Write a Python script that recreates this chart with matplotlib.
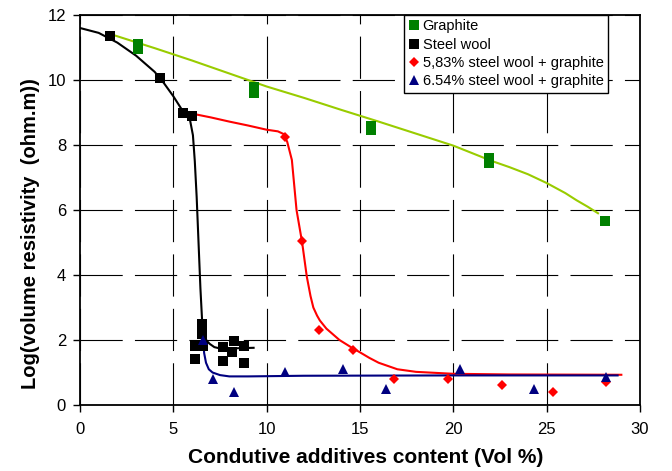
import matplotlib
matplotlib.use("Agg")
import matplotlib.pyplot as plt

plt.rcParams['font.family'] = ['Liberation Sans', 'DejaVu Sans']

# measured points
graphite_x = [3.1, 3.1, 9.3, 9.3, 15.6, 15.6, 21.9, 21.9, 28.1]
graphite_y = [11.1, 10.95, 9.8, 9.6, 8.6, 8.45, 7.6, 7.45, 5.65]

steel_x = [1.6, 4.3, 5.5, 6.0, 6.55, 6.55, 6.15, 6.15, 6.6, 7.65, 7.65, 8.25, 8.15, 8.8, 8.8]
steel_y = [11.35, 10.05, 9.0, 8.9, 2.5, 2.2, 1.83, 1.42, 1.83, 1.8, 1.36, 1.98, 1.64, 1.83, 1.3]

red_x = [11.0, 11.9, 12.8, 14.6, 16.8, 19.7, 22.6, 25.35, 28.2]
red_y = [8.25, 5.05, 2.3, 1.7, 0.8, 0.8, 0.63, 0.41, 0.72]

blue_x = [6.6, 7.1, 8.25, 11.0, 14.1, 16.4, 20.35, 24.3, 28.2]
blue_y = [2.0, 0.8, 0.41, 1.03, 1.1, 0.5, 1.1, 0.5, 0.86]

# trend lines
graphite_fit_x = [1.7, 4, 6, 8, 10, 12, 14, 16, 18, 20, 21.4, 22, 23, 24, 25, 26, 26.6, 27.2, 27.75]
graphite_fit_y = [11.4, 10.98, 10.6, 10.2, 9.8, 9.45, 9.08, 8.72, 8.35, 7.98, 7.66, 7.52, 7.32, 7.1, 6.83, 6.52, 6.3, 6.1, 5.9]

steel_fit_x = [0, 1, 2, 3, 4, 4.5, 5, 5.5, 5.9, 6.05, 6.15, 6.25, 6.35, 6.45, 6.55, 6.65, 6.8, 6.95, 7.2, 7.5, 8, 9.3]
steel_fit_y = [11.6, 11.45, 11.15, 10.75, 10.25, 9.9, 9.5, 9.05, 8.75, 8.3, 7.5, 6.4, 5.0, 3.6, 2.5, 2.1, 1.97, 1.88, 1.78, 1.74, 1.74, 1.76]

red_fit_x = [5.7, 7, 8, 9, 10, 10.6, 10.9, 11.1, 11.35, 11.6, 11.9, 12.15, 12.35, 12.5, 12.7, 12.85, 13.2, 13.5, 13.9, 14.6, 15, 15.5, 16, 17, 18, 20, 23, 29]
red_fit_y = [9.0, 8.85, 8.72, 8.6, 8.47, 8.42, 8.34, 8.1, 7.54, 6.0, 5.0, 3.95, 3.35, 3.0, 2.75, 2.6, 2.35, 2.2, 2.0, 1.75, 1.62, 1.45, 1.3, 1.1, 1.02, 0.96, 0.94, 0.93]

blue_fit_x = [6.6, 6.65, 6.75, 6.9, 7.1, 7.5, 8, 9, 12, 20, 28.8]
blue_fit_y = [2.0, 1.6, 1.3, 1.1, 1.0, 0.92, 0.88, 0.88, 0.9, 0.91, 0.91]

fig = plt.figure(figsize=(6.72, 4.71), dpi=100)
ax = fig.add_axes([80 / 672, 1 - 405 / 471, 560 / 672, 390 / 471])

ax.plot(graphite_fit_x, graphite_fit_y, color='#99cc00', lw=1.5, zorder=2)
ax.plot(steel_fit_x, steel_fit_y, color='black', lw=1.5, zorder=2)
ax.plot(red_fit_x, red_fit_y, color='#ff0000', lw=1.5, zorder=2)
ax.plot(blue_fit_x, blue_fit_y, color='#000080', lw=1.5, zorder=2)

ax.plot(graphite_x, graphite_y, 's', color='#008000', ms=6.5, mew=0, label='Graphite', zorder=3)
ax.plot(steel_x, steel_y, 's', color='black', ms=6.5, mew=0, label='Steel wool', zorder=3)
ax.plot(red_x, red_y, 'D', color='#ff0000', ms=5.5, mew=0, label='5,83% steel wool + graphite', zorder=3)
ax.plot(blue_x, blue_y, '^', color='#000080', ms=7.5, mew=0, label='6.54% steel wool + graphite', zorder=3)

ax.set_xlim(0, 30)
ax.set_ylim(0, 12)
ax.set_xticks(range(0, 31, 5))
ax.set_yticks(range(0, 13, 2))
ax.grid(True, color='black', lw=0.8, linestyle=(0, (38, 11)))
ax.set_axisbelow(True)
for s in ax.spines.values():
    s.set_linewidth(1.3)
ax.tick_params(direction='out', length=5, width=1, labelsize=12)
ax.tick_params(axis='x', pad=7)
ax.tick_params(axis='y', pad=5)

ax.set_xlabel('Condutive additives content (Vol %)', fontsize=15, fontweight='bold')
ax.set_ylabel('Log(volume resistivity  (ohm.m))', fontsize=14.5, fontweight='bold')
ax.xaxis.set_label_coords(0.511, -0.11)
ax.yaxis.set_label_coords(-0.071, 0.44)

leg = ax.legend(loc='upper right', bbox_to_anchor=(528 / 560, 1.0), fontsize=10.5,
                handlelength=0.8, handletextpad=0.2, borderpad=0.3, labelspacing=0.3,
                fancybox=False, framealpha=1, edgecolor='black', borderaxespad=0)
leg.get_frame().set_linewidth(1.0)

fig.savefig('out.png', dpi=100)
